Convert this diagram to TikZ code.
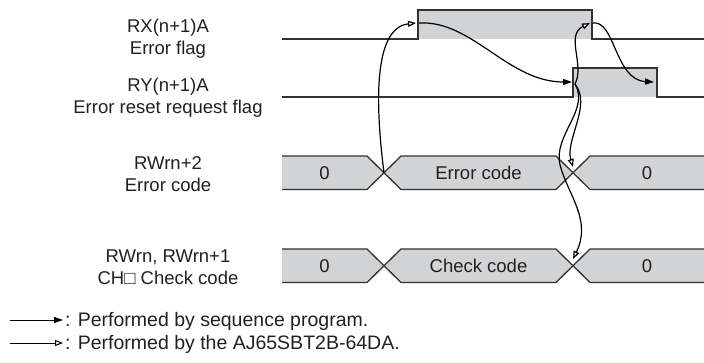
\documentclass[tikz,border=0pt]{standalone}
\usepackage{fontspec}
\setmainfont{Liberation Sans}
\usetikzlibrary{arrows.meta}
\definecolor{sig}{HTML}{333333}
\definecolor{busfill}{HTML}{D1D3D4}
\definecolor{txt}{HTML}{231F20}
\tikzset{
  sigline/.style={draw=sig, line width=1.3pt, line join=miter},
  hifill/.style={fill=busfill, draw=none},
  busseg/.style={fill=busfill, draw=none},
  busedge/.style={draw=sig, line width=1.3pt},
  lbl/.style={text=txt, align=center, font=\fontsize{18.5}{22}\selectfont, inner sep=0pt},
  val/.style={text=txt, font=\fontsize{18.5}{22}\selectfont, inner sep=0pt},
  leg/.style={text=txt, font=\fontsize{19.5}{22}\selectfont, inner sep=0pt, anchor=west},
  prog/.style={draw=black, line width=1.2pt, -{Triangle[length=9pt,width=6pt]}},
  modl/.style={draw=black, line width=1.2pt, -{Triangle[open,length=8pt,width=6pt,fill=white]}},
}
\begin{document}
\begin{tikzpicture}[x=1pt,y=-1pt]
\useasboundingbox (0,0) rectangle (704,363);
% ---- left labels
\node[lbl] (l1) at (168,39) {RX(n+1)A\\Error flag};
\node[lbl] (l2) at (168,97.5) {RY(n+1)A\\Error reset request flag};
\node[lbl] (l3) at (168,174) {RWrn+2\\Error code};
\node[lbl] (l4) at (168,267) {RWrn, RWrn+1\\CH□ Check code};
% ---- RX error flag
\fill[hifill] (418,10) rectangle (592,39);
\draw[sigline] (282,39) -- (418,39) -- (418,10) -- (592,10) -- (592,39) -- (704,39);
% ---- RY reset request
\fill[hifill] (573,68) rectangle (657,97);
\draw[sigline] (282,97) -- (573,97) -- (573,68) -- (657,68) -- (657,97) -- (704,97);
% ---- bus 1
\def\ta{156}\def\ba{189.5}\def\ca{172.75}
\fill[busseg] (282,\ta) -- (367,\ta) -- (384,\ca) -- (367,\ba) -- (282,\ba) -- cycle;
\fill[busseg] (401,\ta) -- (556,\ta) -- (573,\ca) -- (556,\ba) -- (401,\ba) -- (384,\ca) -- cycle;
\fill[busseg] (590,\ta) -- (704,\ta) -- (704,\ba) -- (590,\ba) -- (573,\ca) -- cycle;
\draw[busedge] (282,\ta) -- (367,\ta) -- (401,\ba) -- (556,\ba) -- (590,\ta) -- (704,\ta);
\draw[busedge] (282,\ba) -- (367,\ba) -- (401,\ta) -- (556,\ta) -- (590,\ba) -- (704,\ba);
\node[val] (b1a) at (324.5,\ca) {0};
\node[val] (b1b) at (478.5,\ca) {Error code};
\node[val] (b1c) at (647,\ca) {0};
% ---- bus 2
\def\tb{249}\def\bb{282.5}\def\cb{265.75}
\fill[busseg] (282,\tb) -- (367,\tb) -- (384,\cb) -- (367,\bb) -- (282,\bb) -- cycle;
\fill[busseg] (401,\tb) -- (556,\tb) -- (573,\cb) -- (556,\bb) -- (401,\bb) -- (384,\cb) -- cycle;
\fill[busseg] (590,\tb) -- (704,\tb) -- (704,\bb) -- (590,\bb) -- (573,\cb) -- cycle;
\draw[busedge] (282,\tb) -- (367,\tb) -- (401,\bb) -- (556,\bb) -- (590,\tb) -- (704,\tb);
\draw[busedge] (282,\bb) -- (367,\bb) -- (401,\tb) -- (556,\tb) -- (590,\bb) -- (704,\bb);
\node[val] (b2a) at (324.5,\cb) {0};
\node[val] (b2b) at (478.5,\cb) {Check code};
\node[val] (b2c) at (647,\cb) {0};
% ---- event points
\coordinate (xerr) at (384,\ca);
\coordinate (rxup) at (416,23);
\coordinate (rxupo) at (419,23);
\coordinate (ryup) at (572,82);
\coordinate (ryupo) at (575,84);
\coordinate (rxdn) at (590,23);
\coordinate (rxdno) at (593,23);
\coordinate (rydn) at (654,82);
\coordinate (x2a) at (573,167);
\coordinate (x2b) at (573,259);
% ---- connectors
\draw[modl] (xerr) .. controls (376,110) and (372,28) .. (rxup);
\draw[prog] (rxupo) .. controls (472,20) and (508,82) .. (ryup);
\draw[modl] (ryupo) .. controls (585,65) and (565,35) .. (rxdn);
\draw[prog] (rxdno) .. controls (615,20) and (615,80) .. (rydn);
\draw[modl] (ryupo) .. controls (592,105) and (565,140) .. (x2a);
\draw[modl] (ryupo) .. controls (590,110) and (553,135) .. (560,165) .. controls (568,195) and (592,220) .. (x2b);
% ---- legend
\coordinate (g1s) at (10,320);
\coordinate (g1e) at (63,320);
\coordinate (g2s) at (10,343);
\coordinate (g2e) at (63,343);
\draw[prog, line width=1pt] (g1s) -- (g1e);
\draw[modl, line width=1pt] (g2s) -- (g2e);
\node[leg] (t1) at (65,321) {: Performed by sequence program.};
\node[leg] (t2) at (65,344) {: Performed by the AJ65SBT2B-64DA.};
\end{tikzpicture}
\end{document}
